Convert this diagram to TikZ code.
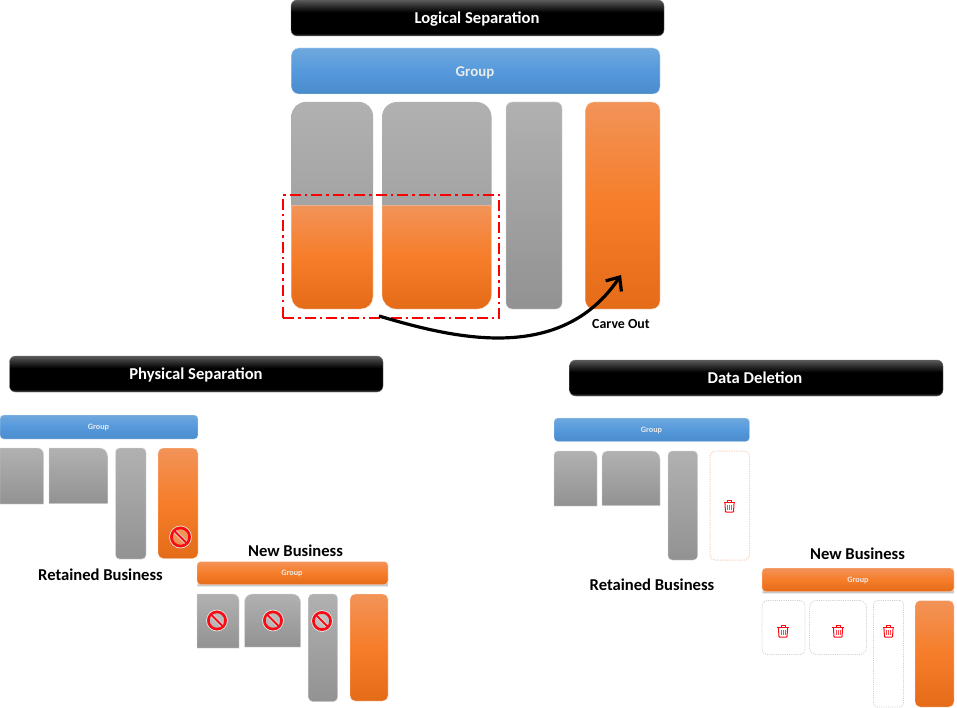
\documentclass[tikz,border=0pt]{standalone}
\usepackage{fontspec}
\setmainfont{Carlito}
\usetikzlibrary{arrows.meta}
\definecolor{oT}{HTML}{F29358}
\definecolor{oM}{HTML}{F67D29}
\definecolor{oB}{HTML}{E46B17}
\definecolor{gT}{HTML}{B1B1B1}
\definecolor{gC}{HTML}{A3A3A3}
\definecolor{gB}{HTML}{929292}
\definecolor{bT}{HTML}{6FA8DE}
\definecolor{bM}{HTML}{5599DC}
\definecolor{bB}{HTML}{4A8BCB}
\definecolor{alarm}{HTML}{FB0A14}
\pgfdeclareverticalshading{titleshade}{100bp}{
 color(0bp)=(black!72); color(25bp)=(black!72); color(29bp)=(black); color(58bp)=(black);
 color(75bp)=(black!65); color(100bp)=(black!65)}
\tikzset{
 graybox/.style={top color=gT,bottom color=gB,draw=white!85!black,line width=.4pt},
 cutgraybox/.style={top color=gT,bottom color=gC},
 orangebox/.style={top color=oT,bottom color=oB,middle color=oM,draw=white!80!oT,line width=.4pt},
 bluebox/.style={top color=bT,bottom color=bB,middle color=bM,draw=white!80!bT,line width=.4pt},
 titlebox/.style={shading=titleshade,draw=black!55,line width=.4pt},
 deletedgray/.style={draw=black!20,dash pattern=on 1pt off 1.2pt,line width=.8pt},
 deletedorange/.style={draw=oT!45,dash pattern=on 1.2pt off 1.2pt,line width=1pt},
 titletext/.style={font=\fontsize{16.6}{18}\bfseries,text=white,inner sep=0pt},
 grouptext/.style={font=\fontsize{8.2}{10}\bfseries,text=white!92!black,inner sep=0pt},
 biggrouptext/.style={font=\fontsize{14.9}{17}\bfseries,text=white!92!black,inner sep=0pt},
 labeltext/.style={font=\fontsize{16.6}{18}\bfseries,text=black,inner sep=0pt},
 smalllabel/.style={font=\fontsize{13.9}{15}\bfseries,text=black,inner sep=0pt},
 carveframe/.style={draw=red,line width=1.5pt,dash pattern=on 11pt off 4pt on 2.5pt off 4pt},
 carvearrow/.style={draw=black,line width=3.2pt,-{Straight Barb[length=11pt,width=19pt,line width=3.2pt]}},
}
% #1 name, #2 x1, #3 y1, #4 x2, #5 y2, #6 radius, #7 style: box rounded on all corners
\newcommand{\allround}[7]{%
 \pgfmathsetmacro{\bw}{#4-#2}\pgfmathsetmacro{\bh}{#5-#3}%
 \node[#7,rounded corners=#6pt,inner sep=0pt,outer sep=0pt,anchor=north west,minimum width=\bw pt,minimum height=\bh pt] (#1) at (#2,#3) {};}
\newcommand{\toponlyb}[7]{% x1 y1 x2 y2, left corner radius #5, right corner #6, style
 \path[#7] (#1,#4) -- (#1,#2+#5) arc[start angle=180,end angle=90,radius=#5pt] -- (#3-#6,#2) arc[start angle=90,end angle=0,radius=#6pt] -- (#3,#4) -- cycle;}
\newcommand{\softshadow}[4]{% x1 y1 x2 y2
 \fill[black!8] (#1,#2) rectangle (#3,#4+1);
 \fill[black!22] (#1+.5,#2) rectangle (#3-.5,#4);}
\newcommand{\prohibit}[3]{% x, y, r
 \begin{scope}[shift={(#1,#2)}]
  \fill[white,opacity=.25] (0,0) circle[radius=#3pt];
  \draw[white!90!black,line width=.7pt] (0,0) circle[radius=#3pt];
  \draw[alarm,line width=2.6pt] (0,0) circle[radius=#3pt-1.9pt];
  \draw[white!85!black,line width=3.6pt] (-.48*#3,-.48*#3) -- (.48*#3,.48*#3);
  \draw[alarm,line width=1.9pt] (-.62*#3,-.62*#3) -- (.62*#3,.62*#3);
 \end{scope}}
\newcommand{\trash}[2]{% centre x, y
 \begin{scope}[shift={(#1,#2)},draw=alarm,line width=1pt]
  \draw (-5.6,-3.8) -- (5.6,-3.8);
  \draw[line width=.9pt] (-2,-3.8) -- (-2,-6) -- (2,-6) -- (2,-3.8);
  \draw[rounded corners=.8pt] (-4.6,-3.8) -- (-4,6.2) -- (4,6.2) -- (4.6,-3.8);
  \draw[line width=.7pt,alarm!75!white] (-1.9,-1.5) -- (-1.9,4) (0,-1.5) -- (0,4) (1.9,-1.5) -- (1.9,4);
 \end{scope}}
\begin{document}
\begin{tikzpicture}[x=1pt,y=-1pt]
\useasboundingbox (0,0) rectangle (957,708);
% Logical Separation
\allround{ltitle}{291}{0}{664}{36}{6}{titlebox}
\node[titletext] (ltitlet) at (477,19.5) {Logical Separation};
\allround{lgroup}{291.5}{48}{660}{94}{7}{bluebox}
\node[biggrouptext] (lgroupt) at (475,73) {Group};
\toponlyb{291.5}{102}{373}{206}{14}{14}{cutgraybox}
\toponlyb{382}{102}{491.5}{206}{15}{15}{cutgraybox}
\path[orangebox] (291.5,205.5) -- (373,205.5) -- (373,297) arc[start angle=0,end angle=-90,radius=12pt] -- (303.5,309) arc[start angle=-90,end angle=-180,radius=12pt] -- cycle;
\path[orangebox] (382,205.5) -- (491.5,205.5) -- (491.5,295) arc[start angle=0,end angle=-90,radius=14pt] -- (396,309) arc[start angle=-90,end angle=-180,radius=14pt] -- cycle;
\allround{lg3}{506}{102}{562}{309}{6}{graybox}
\allround{lor}{585.5}{102}{660}{309}{8}{orangebox}
\node[carveframe,inner sep=0pt,outer sep=0pt,anchor=north west,minimum width=216pt,minimum height=123pt] (frame) at (283,195) {};
\coordinate (arrowstart) at (379,316);
\coordinate (arrowend) at (621,275);
\draw[carvearrow] (arrowstart) .. controls (450,337) and (560,366) .. (arrowend);
\node[smalllabel] (carve) at (621,324) {Carve Out};
% Physical Separation
\allround{ptitle}{9.5}{356}{383}{392}{6}{titlebox}
\node[titletext] (ptitlet) at (196,374.8) {Physical Separation};
\allround{pgroup}{0}{415}{198}{439}{3.5}{bluebox}
\node[grouptext] (pgroupt) at (98.5,427) {Group};
\toponlyb{0}{448}{43.5}{504}{0.1}{6}{graybox}
\toponlyb{49}{448}{107.5}{503.5}{0.1}{8}{graybox}
\allround{pg3}{115.5}{448}{146}{559}{4}{graybox}
\allround{por}{158}{448}{198}{558.5}{5}{orangebox}
\prohibit{180.5}{537}{11}
\node[labeltext] (pret) at (100.5,574.8) {Retained Business};
\node[labeltext] (pnew) at (295.5,550.3) {New Business};
\softshadow{197}{564}{388}{586}
\allround{pngroup}{197}{561.5}{388}{584.5}{3.5}{orangebox}
\node[grouptext] (pngroupt) at (292,573.5) {Group};
\toponlyb{197}{594}{239}{648}{0.1}{6}{graybox}
\toponlyb{244.5}{594}{300.5}{647}{8}{8}{graybox}
\allround{png3}{308.5}{594}{337.5}{701.5}{4}{graybox}
\allround{pnor}{350}{594}{388}{701}{5}{orangebox}
\prohibit{217}{620.5}{10.5}
\prohibit{273}{620.5}{10.5}
\prohibit{322}{621}{10.5}
% Data Deletion
\allround{dtitle}{569.5}{360}{943}{396}{6}{titlebox}
\node[titletext] (dtitlet) at (755,378) {Data Deletion};
\allround{dgroup}{554}{418}{749.5}{441.5}{3.5}{bluebox}
\node[grouptext] (dgroupt) at (651.5,430.5) {Group};
\toponlyb{554}{451}{597}{506}{4}{6}{graybox}
\toponlyb{602}{451}{660}{505.5}{5}{8}{graybox}
\allround{dg3}{668}{451}{697.5}{560}{4}{graybox}
\allround{ddel}{710}{451}{749.5}{560}{5}{deletedorange}
\trash{729.5}{506}
\node[labeltext] (dret) at (652,584.8) {Retained Business};
\node[labeltext] (dnew) at (857.5,553.8) {New Business};
\softshadow{762}{570.5}{954}{593}
\allround{dngroup}{762}{568}{954}{591.5}{3.5}{orangebox}
\node[grouptext] (dngroupt) at (858,580.5) {Group};
\allround{dn1}{762}{600.5}{805}{654.5}{5}{deletedgray}
\allround{dn2}{809.5}{600.5}{866.5}{654.5}{7}{deletedgray}
\allround{dn3}{873.5}{600.5}{903.5}{707}{4}{deletedgray}
\allround{dnor}{915}{600.5}{954}{707}{5}{orangebox}
\trash{783}{631}
\trash{838}{631}
\trash{888.5}{631}
\end{tikzpicture}
\end{document}
